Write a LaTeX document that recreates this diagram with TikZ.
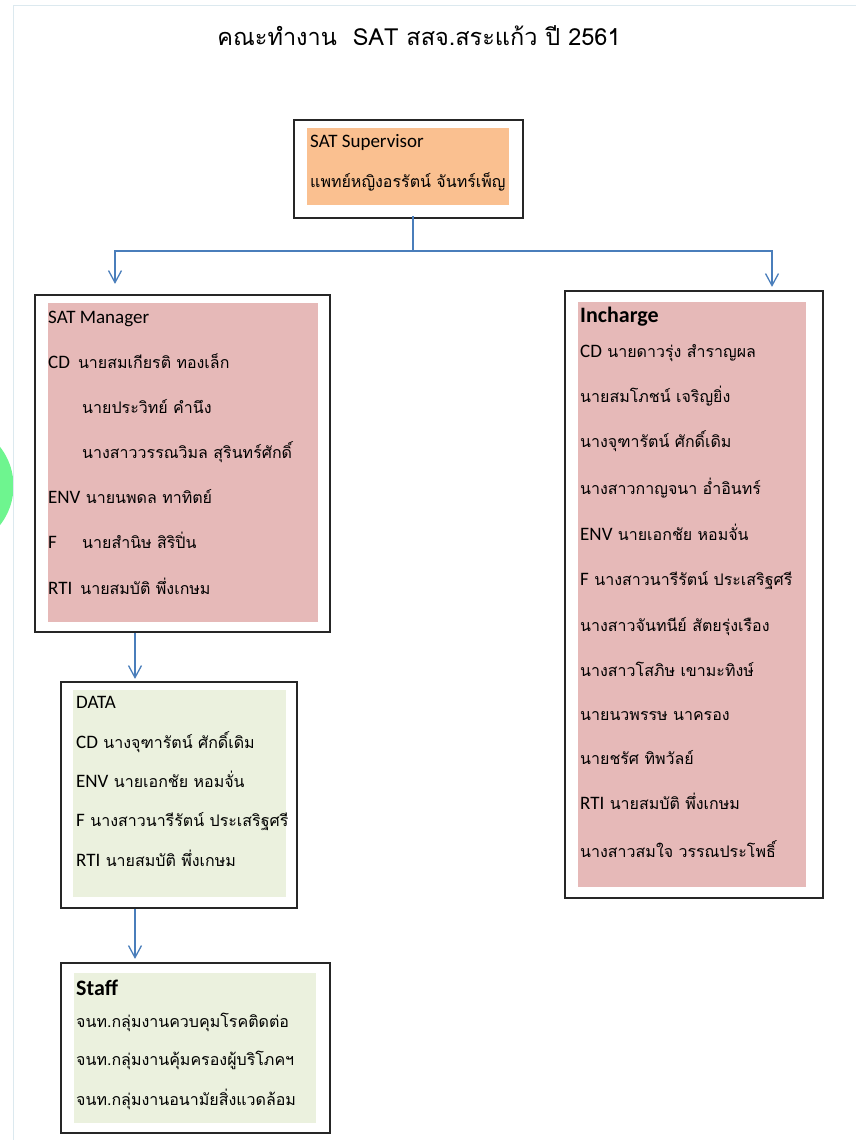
\documentclass[tikz,border=0pt]{standalone}
\usepackage{fontspec}
\setmainfont[Script=Thai]{Loma}
\newfontfamily\latfam{Carlito}
\usetikzlibrary{arrows.meta,calc}
\definecolor{supfill}{HTML}{FAC090}
\definecolor{pinkfill}{HTML}{E6B9B8}
\definecolor{greenfill}{HTML}{EBF1DE}
\definecolor{connblue}{HTML}{4A7EBB}
\definecolor{pageborder}{HTML}{DCE9EF}
\definecolor{blobgreen}{HTML}{6EF58F}
\newcommand\latn[1]{{\latfam\fontsize{19}{22}\selectfont #1}}
\newcommand\lathead[1]{{\latfam\bfseries\fontsize{22}{26}\selectfont #1}}
\begin{document}
\begin{tikzpicture}[x=1pt,y=-1pt,
  frame/.style={draw=black!85,line width=2.2pt,inner sep=0pt,rectangle},
  txt/.style={anchor=mid west,inner sep=0pt,font=\fontsize{16}{19}\selectfont},
  conn/.style={draw=connblue,line width=1.3pt},
  arr/.style={-{Straight Barb[length=12pt,width=13pt,line width=1.3pt]}}]
\useasboundingbox (0,0) rectangle (856,1140);
\fill[white] (0,0) rectangle (856,1140);
\begin{scope}
\clip (0,0) rectangle (856,1140);
\fill[blobgreen] (-50,486) circle (63.5);
\end{scope}
\draw[pageborder,line width=1pt] (13,1140) -- (13,6) -- (856,6);

% title
\node[anchor=mid,inner sep=0pt,font=\fontsize{23.5}{28}\selectfont] (title) at (419,43) {คณะทำงาน~~SAT สสจ.สระแก้ว ปี 2561};

% supervisor
\node[frame,minimum width=229pt,minimum height=98pt] (sup) at (408.5,169) {};
\fill[supfill] (307,128) rectangle (509,205);
\node[txt] (s1) at (310,145) {\latn{SAT Supervisor}};
\node[txt] (s2) at (310,185) {แพทย์หญิงอรรัตน์ จันทร์เพ็ญ};

% manager
\node[frame,minimum width=295pt,minimum height=337pt] (mgr) at (182.5,463.5) {};
\fill[pinkfill] (48,303) rectangle (318,622);
\node[txt] (m1) at (48,321) {\latn{SAT Manager}};
\node[txt] (m2) at (48,366) {\latn{CD}\hspace{8pt}นายสมเกียรติ ทองเล็ก};
\node[txt] (m3) at (82,411) {นายประวิทย์ คำนึง};
\node[txt] (m4) at (82,456) {นางสาววรรณวิมล สุรินทร์ศักดิ์};
\node[txt] (m5) at (48,501) {\latn{ENV} นายนพดล ทาทิตย์};
\node[txt] (m6) at (48,546) {\makebox[34pt][l]{\latn{F}}นายสำนิษ สิริปิ่น};
\node[txt] (m7) at (48,592) {\latn{RTI}\hspace{8pt}นายสมบัติ พึ่งเกษม};

% incharge
\node[frame,minimum width=258pt,minimum height=607pt] (inc) at (694,594.5) {};
\fill[pinkfill] (578,302) rectangle (806,887);
\node[txt] (i1) at (580,320) {\lathead{Incharge}};
\node[txt] (i2) at (580,355) {\latn{CD} นายดาวรุ่ง สำราญผล};
\node[txt] (i3) at (580,400) {นายสมโภชน์ เจริญยิ่ง};
\node[txt] (i4) at (580,445) {นางจุฑารัตน์ ศักดิ์เดิม};
\node[txt] (i5) at (580,492) {นางสาวกาญจนา อ่ำอินทร์};
\node[txt] (i6) at (580,538) {\latn{ENV} นายเอกชัย หอมจั่น};
\node[txt] (i7) at (580,583) {\latn{F} นางสาวนารีรัตน์ ประเสริฐศรี};
\node[txt] (i8) at (580,629) {นางสาวจันทนีย์ สัตยรุ่งเรือง};
\node[txt] (i9) at (580,674) {นางสาวโสภิษ เขามะทิงษ์};
\node[txt] (i10) at (580,718) {นายนวพรรษ นาครอง};
\node[txt] (i11) at (580,762) {นายชรัศ ทิพวัลย์};
\node[txt] (i12) at (580,807) {\latn{RTI} นายสมบัติ พึ่งเกษม};
\node[txt] (i13) at (580,855) {นางสาวสมใจ วรรณประโพธิ์};

% data
\node[frame,minimum width=236pt,minimum height=226pt] (data) at (179,795) {};
\fill[greenfill] (73,690) rectangle (286,897);
\node[txt] (d1) at (76,706) {\latn{DATA}};
\node[txt] (d2) at (76,746) {\latn{CD} นางจุฑารัตน์ ศักดิ์เดิม};
\node[txt] (d3) at (76,785) {\latn{ENV} นายเอกชัย หอมจั่น};
\node[txt] (d4) at (76,824) {\latn{F} นางสาวนารีรัตน์ ประเสริฐศรี};
\node[txt] (d5) at (76,864) {\latn{RTI} นายสมบัติ พึ่งเกษม};

% staff
\node[frame,minimum width=269pt,minimum height=170pt] (staff) at (195.5,1048) {};
\fill[greenfill] (74,973) rectangle (316,1123);
\node[txt] (t1) at (76,993) {\lathead{Staff}};
\node[txt] (t2) at (76,1025) {จนท.กลุ่มงานควบคุมโรคติดต่อ};
\node[txt] (t3) at (76,1063) {จนท.กลุ่มงานคุ้มครองผู้บริโภคฯ};
\node[txt] (t4) at (76,1103) {จนท.กลุ่มงานอนามัยสิ่งแวดล้อม};

% connectors
\coordinate (j) at (413,251);
\draw[conn] ([xshift=4.5pt,yshift=3pt]sup.south) -- (j);
\draw[conn,arr] (j) -| ([xshift=-67.5pt,yshift=10pt]mgr.north);
\draw[conn,arr] (j) -| ([xshift=78pt,yshift=3pt]inc.north);
\draw[conn,arr] ([xshift=-47.5pt]mgr.south) -- ([xshift=-44pt,yshift=2pt]data.north);
\draw[conn,arr] ([xshift=-44pt]data.south) -- ([xshift=-60.5pt,yshift=3pt]staff.north);
\end{tikzpicture}
\end{document}
